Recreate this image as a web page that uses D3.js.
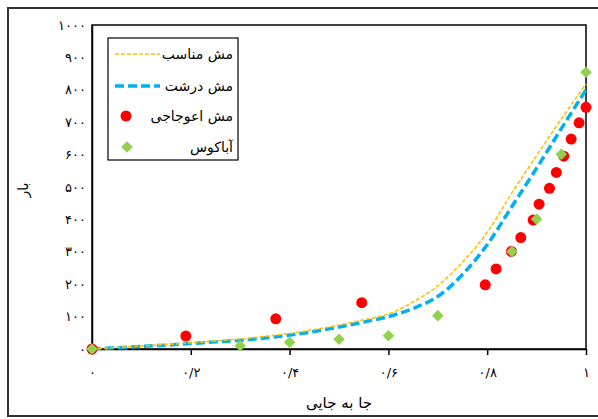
<!DOCTYPE html>
<html><head><meta charset="utf-8">
<script src="https://cdn.jsdelivr.net/npm/d3@7"></script>
<style>body{margin:0;background:#fff}svg{display:block}</style>
</head><body>
<svg id="c" width="598" height="419"></svg>
<script>
const lineX = [0,0.05,0.1,0.15,0.2,0.25,0.3,0.35,0.4,0.45,0.5,0.55,0.6,0.65,0.7,0.75,0.8,0.85,0.9,0.95,1.0];
const fineMesh   = [0,5,9,14,19,25,31,39,48,60,74,90,108,145,195,268,360,482,597,710,818];
const coarseMesh = [0,4,8,12,17,22,27,34,43,54,68,83,100,125,162,230,322,440,558,680,800];
const twistedX = [0,0.19,0.372,0.546,0.796,0.818,0.849,0.868,0.893,0.905,0.926,0.94,0.955,0.97,0.986,1.0];
const twistedY = [0,40,93,143,198,247,301,344,398,447,496,545,595,648,698,746];
const abaqusX = [0,0.3,0.4,0.5,0.6,0.7,0.85,0.9,0.95,1.0];
const abaqusY = [0,10,21,30,41,103,301,401,601,854];
const xTicks = [0,0.2,0.4,0.6,0.8,1];
const xTickLabels = ["۰","۰/۲","۰/۴","۰/۶","۰/۸","۱"];
const yTicks = [0,100,200,300,400,500,600,700,800,900,1000];
const yTickLabels = ["۰","۱۰۰","۲۰۰","۳۰۰","۴۰۰","۵۰۰","۶۰۰","۷۰۰","۸۰۰","۹۰۰","۱۰۰۰"];
const seriesNames = ["مش مناسب","مش درشت","مش اعوجاجی","آباکوس"];
const xTitle = "جا به جایی";
const yTitle = "بار";

const svg = d3.select("#c");
const font = "'DejaVu Sans', sans-serif";
const L=92, R=586, T=25, B=349;
const x = d3.scaleLinear().domain([0,1]).range([L,R]);
const y = d3.scaleLinear().domain([0,1000]).range([B,T]);

// outer frame
svg.append("rect").attr("x",8).attr("y",8).attr("width",620).attr("height",408)
  .attr("fill","none").attr("stroke","#333").attr("stroke-width",2);

// plot box
svg.append("rect").attr("x",L).attr("y",T).attr("width",R-L).attr("height",B-T)
  .attr("fill","none").attr("stroke","#000").attr("stroke-width",1.5);

// x axis
const xa = svg.append("g").attr("transform",`translate(0,${B})`)
  .call(d3.axisBottom(x).tickValues(xTicks).tickSize(6).tickSizeOuter(0).tickFormat((d,i)=>xTickLabels[i]));
xa.select(".domain").attr("stroke","#000").attr("stroke-width",1.5);
xa.selectAll(".tick line").attr("stroke","#000").attr("stroke-width",1.5);
xa.selectAll(".tick text").attr("font-family",font).attr("font-size",13).attr("fill","#000").attr("dy","1.45em");

// y axis
const ya = svg.append("g").attr("transform",`translate(${L},0)`)
  .call(d3.axisLeft(y).tickValues(yTicks).tickSize(0).tickPadding(6).tickFormat((d,i)=>yTickLabels[i]));
ya.select(".domain").attr("stroke","#000").attr("stroke-width",1.5);
ya.selectAll(".tick text").attr("font-family",font).attr("font-size",13).attr("fill","#000");

// axis titles
svg.append("text").attr("x",339).attr("y",408).attr("text-anchor","middle")
  .attr("font-family",font).attr("font-size",15).attr("fill","#000").text(xTitle);
svg.append("text").attr("transform","translate(28,190) rotate(-90)").attr("text-anchor","middle")
  .attr("font-family",font).attr("font-size",14).attr("fill","#000").text(yTitle);

const g = svg.append("g");
const line = (ys)=> d3.line().x((d,i)=>x(lineX[i])).y(d=>y(d)).curve(d3.curveCatmullRom.alpha(0.5))(ys);

g.append("path").attr("d",line(coarseMesh)).attr("fill","none")
  .attr("stroke","#00B0F0").attr("stroke-width",3.5).attr("stroke-dasharray","9,4");
g.append("path").attr("d",line(fineMesh)).attr("fill","none")
  .attr("stroke","#FFC000").attr("stroke-width",1.6).attr("stroke-dasharray","4,2");

const diamond = (cx,cy,r)=>`M${cx},${cy-r}L${cx+r},${cy}L${cx},${cy+r}L${cx-r},${cy}Z`;

g.selectAll("circle.tw").data(twistedY).enter().append("circle").attr("class","tw")
  .attr("cx",(d,i)=>x(twistedX[i])).attr("cy",d=>y(d)).attr("r",5.5).attr("fill","#FF0000");
g.selectAll("path.ab").data(abaqusY).enter().append("path").attr("class","ab")
  .attr("d",(d,i)=>diamond(x(abaqusX[i]),y(d),5.8)).attr("fill","#92D050");

// legend
const lg = svg.append("g");
lg.append("rect").attr("x",108).attr("y",38).attr("width",130).attr("height",122)
  .attr("fill","#fff").attr("stroke","#000").attr("stroke-width",1.2);
const rows=[54,86,116,147];
lg.append("line").attr("x1",115).attr("x2",160).attr("y1",rows[0]).attr("y2",rows[0])
  .attr("stroke","#FFC000").attr("stroke-width",1.6).attr("stroke-dasharray","4,2");
lg.append("line").attr("x1",115).attr("x2",160).attr("y1",rows[1]).attr("y2",rows[1])
  .attr("stroke","#00B0F0").attr("stroke-width",3.5).attr("stroke-dasharray","9,4");
lg.append("circle").attr("cx",126).attr("cy",rows[2]).attr("r",5.5).attr("fill","#FF0000");
lg.append("path").attr("d",diamond(127,rows[3],5.8)).attr("fill","#92D050");
seriesNames.forEach((n,i)=>{
  lg.append("text").attr("x",233).attr("y",rows[i]).attr("dy","0.35em").attr("text-anchor","end")
    .attr("font-family",font).attr("font-size",14).attr("fill","#000").text(n);
});
</script>
</body></html>
